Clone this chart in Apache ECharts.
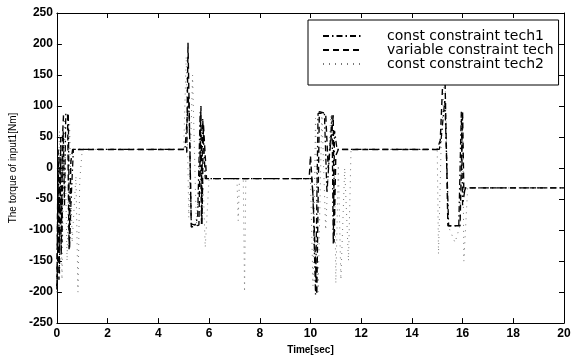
<!DOCTYPE html>
<html>
<head>
<meta charset="utf-8">
<script src="https://cdn.jsdelivr.net/npm/echarts@6/dist/echarts.min.js"></script>
<style>html,body{margin:0;padding:0;background:#fff}#c{width:576px;height:360px}</style>
</head>
<body>
<div id="c"></div>
<script>
var seriesNames = ['const constraint tech1', 'variable constraint tech', 'const constraint tech2'];
var xTicks = [0, 2, 4, 6, 8, 10, 12, 14, 16, 18, 20];
var yTicks = [-250, -200, -150, -100, -50, 0, 50, 100, 150, 200, 250];

var tech1Time = [0, 0.05, 0.1, 0.15, 0.2, 0.25, 0.3, 0.35, 0.45, 0.5, 0.55, 0.65, 5.05, 5.2, 5.3, 5.45, 5.55, 5.65, 5.7, 5.75, 5.85, 10.05, 10.1, 10.2, 10.3, 10.55, 10.65, 10.85, 10.9, 10.95, 11.05, 15.08, 15.15, 15.3, 15.45, 15.85, 15.95, 16.0, 16.1, 20];
var tech1Torque = [-190, 30, -170, 50, -120, 60, -60, 88, 85, -130, -60, 30, 30, 117, -90, -92, -80, 90, -90, 80, -17, -17, -45, -204, 88, 88, -40, 85, -123, 60, 30, 30, 45, 110, -93, -93, 91, -60, -32, -32];

var variableTime = [0, 0.04, 0.08, 0.12, 0.17, 0.22, 0.26, 0.32, 0.42, 0.48, 0.55, 0.62, 5.0, 5.12, 5.17, 5.3, 5.6, 5.68, 5.72, 5.78, 5.9, 9.95, 10.0, 10.1, 10.25, 10.35, 10.6, 10.7, 10.9, 10.93, 11.0, 11.1, 15.0, 15.12, 15.28, 15.42, 15.9, 16.0, 16.05, 16.12, 20];
var variableTorque = [-196, 0, -180, 20, -140, 50, 85, 88, 86, -131, 10, 30, 30, 25, 202, -95, -92, 100, -91, 70, -17, -17, 20, -45, -204, 91, 88, 0, 85, -120, 20, 30, 30, 45, 200, -93, -93, 91, -40, -32, -32];

var tech2Time = [0, 0.1, 0.2, 0.3, 0.4, 0.5, 0.6, 0.75, 0.83, 0.9, 1.0, 5.0, 5.1, 5.2, 5.35, 5.5, 5.7, 5.85, 6.0, 7.1, 7.15, 7.2, 7.35, 7.4, 7.45, 10.0, 10.1, 10.2, 10.3, 10.45, 10.6, 10.8, 10.95, 11.0, 11.1, 11.2, 11.35, 11.5, 11.6, 15.0, 15.05, 15.15, 15.3, 15.45, 15.7, 15.9, 16.0, 16.05, 16.2, 20];
var tech2Torque = [-200, 60, -180, 80, -150, 70, -120, -13, -200, -20, 30, 30, 180, -80, 150, -95, 60, -128, -17, -17, -85, -17, -17, -200, -17, -17, -190, 80, -200, 90, -100, 85, 5, -186, 5, -180, 0, -150, 30, 30, -139, 30, 160, -95, -120, -93, 90, -150, -32, -32];

function pairs(t, v) { return t.map(function (x, i) { return [x, v[i]]; }); }

var chart = echarts.init(document.getElementById('c'), null, {renderer: 'canvas'});
var tickStyle = {show: true, inside: true, length: 5, lineStyle: {color: '#000', width: 1}};
var lineStyleAxis = {show: true, onZero: false, lineStyle: {color: '#000', width: 1}};
var labelFont = {color: '#000', fontFamily: 'Liberation Sans, Arial, sans-serif', fontSize: 12, fontWeight: 'bold'};

chart.setOption({
  animation: false,
  backgroundColor: '#fff',
  grid: {left: 52, right: 12, top: 13, bottom: 33, containLabel: false},
  legend: {
    data: seriesNames,
    orient: 'vertical',
    left: 308, top: 20,
    padding: [9, 5, 14, 14],
    itemWidth: 38, itemHeight: 10, itemGap: 0,
    backgroundColor: '#fff', borderColor: '#000', borderWidth: 1, borderRadius: 0,
    itemStyle: {opacity: 0},
    textStyle: {color: '#000', fontFamily: 'DejaVu Sans, sans-serif', fontSize: 14, lineHeight: 10, padding: [0, 0, 0, 21]},
    z: 10
  },
  xAxis: [{
    type: 'value', min: 0, max: 20, interval: 2,
    axisLine: lineStyleAxis, axisTick: tickStyle, splitLine: {show: false},
    axisLabel: Object.assign({margin: 5, formatter: function (v) { return xTicks.indexOf(v) >= 0 ? String(v) : ''; }}, labelFont),
    name: 'Time[sec]', nameLocation: 'middle', nameGap: 19,
    nameTextStyle: {color: '#000', fontFamily: 'Liberation Sans, Arial, sans-serif', fontSize: 10, fontWeight: 'bold'}
  }, {
    type: 'value', min: 0, max: 20, interval: 2, position: 'top',
    axisLine: lineStyleAxis, axisTick: tickStyle, splitLine: {show: false}, axisLabel: {show: false}
  }],
  yAxis: [{
    type: 'value', min: -250, max: 250, interval: 50,
    axisLine: lineStyleAxis, axisTick: tickStyle, splitLine: {show: false},
    axisLabel: Object.assign({margin: 4, formatter: function (v) { return yTicks.indexOf(v) >= 0 ? String(v) : ''; }}, labelFont),
    name: 'The torque of input1[Nm]', nameLocation: 'middle', nameGap: 36,
    nameTextStyle: {color: '#000', fontFamily: 'Liberation Sans, Arial, sans-serif', fontSize: 10}
  }, {
    type: 'value', min: -250, max: 250, interval: 50, position: 'right',
    axisLine: lineStyleAxis, axisTick: tickStyle, splitLine: {show: false}, axisLabel: {show: false}
  }],
  series: [{
    name: seriesNames[2], type: 'line', symbol: 'none', xAxisIndex: 0, yAxisIndex: 0,
    data: pairs(tech2Time, tech2Torque),
    lineStyle: {color: '#777', width: 1, type: [1, 5]}, itemStyle: {color: '#777'}, z: 2
  }, {
    name: seriesNames[0], type: 'line', symbol: 'none', xAxisIndex: 0, yAxisIndex: 0,
    data: pairs(tech1Time, tech1Torque),
    lineStyle: {color: '#000', width: 1.3, type: [6, 3, 1.5, 3]}, itemStyle: {color: '#000'}, z: 3
  }, {
    name: seriesNames[1], type: 'line', symbol: 'none', xAxisIndex: 0, yAxisIndex: 0,
    data: pairs(variableTime, variableTorque),
    lineStyle: {color: '#000', width: 1.4, type: [6, 4]}, itemStyle: {color: '#000'}, z: 3
  }]
});
</script>
</body>
</html>
